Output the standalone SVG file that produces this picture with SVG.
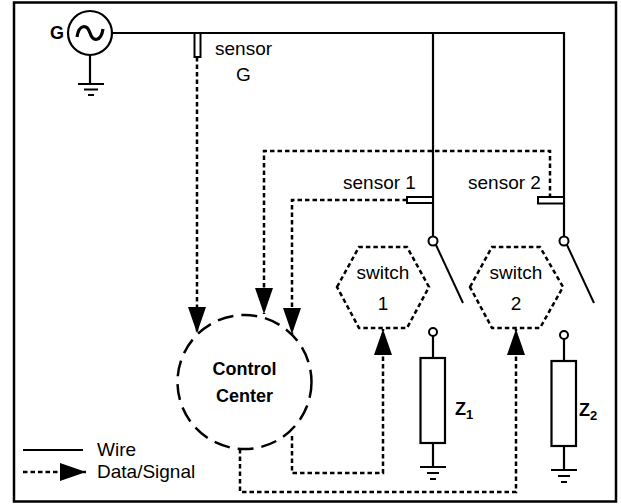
<svg xmlns="http://www.w3.org/2000/svg" width="621" height="504" viewBox="0 0 621 504">
<defs>
<style>
.wire{fill:none;stroke:#000;stroke-width:2.2}
.data{fill:none;stroke:#000;stroke-width:2.5;stroke-dasharray:4.5,3}
.hex{fill:#fff;stroke:#000;stroke-width:2.5;stroke-dasharray:4.5,3}
.t{font-family:"Liberation Sans",Arial,sans-serif;font-size:19px;fill:#000}
.b{font-family:"Liberation Sans",Arial,sans-serif;font-size:18px;font-weight:bold;fill:#000}
</style>
<marker id="arr" markerUnits="userSpaceOnUse" markerWidth="26" markerHeight="18" refX="26" refY="9" orient="auto">
<path d="M0,0 L26,9 L0,18 Z" fill="#000"/>
</marker>
</defs>
<rect x="0" y="0" width="621" height="504" fill="#fff"/>
<rect x="14" y="2.5" width="602" height="499" fill="none" stroke="#000" stroke-width="2.5"/>

<g id="connectors">
<path class="wire" d="M112,33 H564 V237"/>
<path class="wire" d="M433,33 V237"/>
<path class="wire" d="M90,55 V84"/>
<path class="data" d="M197,57 V333" marker-end="url(#arr)"/>
<path class="data" d="M550,198 V151 H264 V314" marker-end="url(#arr)"/>
<path class="data" d="M407,200 H292 V334" marker-end="url(#arr)"/>
<path class="data" d="M292,436 V473 H383 V329" marker-end="url(#arr)"/>
<path class="data" d="M240,449 V492 H516 V329" marker-end="url(#arr)"/>
</g>

<g id="generator">
<circle cx="90" cy="33" r="22" fill="#fff" stroke="#000" stroke-width="2.2"/>
<path d="M77,37 C79,24 87,24 90,33 C93,42 101,42 103,29" fill="none" stroke="#000" stroke-width="3.2"/>
<text class="b" x="50" y="39">G</text>
<path d="M78,84 H104 M84,89.5 H98 M88,95 H94" fill="none" stroke="#000" stroke-width="2.2"/>
</g>

<g id="sensorG">
<rect x="194.5" y="33" width="6" height="24" fill="#fff" stroke="#000" stroke-width="2"/>
<text class="t" x="215" y="55">sensor</text>
<text class="t" x="236" y="81">G</text>
</g>

<g id="sensor1">
<rect x="407" y="197" width="26" height="6" fill="#fff" stroke="#000" stroke-width="2"/>
<text class="t" x="343" y="189">sensor 1</text>
</g>

<g id="sensor2">
<rect x="538" y="197" width="26" height="6.5" fill="#fff" stroke="#000" stroke-width="2"/>
<text class="t" x="468" y="189">sensor 2</text>
</g>

<g id="breaker1">
<circle cx="433" cy="241" r="4.5" fill="#fff" stroke="#000" stroke-width="2"/>
<line x1="436" y1="245" x2="463" y2="303" stroke="#000" stroke-width="2"/>
</g>
<g id="breaker2">
<circle cx="564" cy="241" r="4.5" fill="#fff" stroke="#000" stroke-width="2"/>
<line x1="567" y1="245" x2="594" y2="303" stroke="#000" stroke-width="2"/>
</g>

<g id="switch1">
<polygon class="hex" points="337,287 359,247 407,247 429,287 407,328 359,328"/>
<text class="t" x="383" y="279" text-anchor="middle">switch</text>
<text class="t" x="383" y="310" text-anchor="middle">1</text>
</g>

<g id="switch2">
<polygon class="hex" points="470,287 492,247 540,247 563,287 540,328 492,328"/>
<text class="t" x="516" y="279" text-anchor="middle">switch</text>
<text class="t" x="516" y="310" text-anchor="middle">2</text>
</g>

<g id="controlCenter">
<circle cx="244.5" cy="382" r="67" fill="none" stroke="#000" stroke-width="2.5" stroke-dasharray="16,8"/>
<text class="b" x="244.5" y="375" text-anchor="middle">Control</text>
<text class="b" x="244.5" y="402" text-anchor="middle">Center</text>
</g>

<g id="Z1">
<circle cx="433" cy="332" r="4" fill="#fff" stroke="#000" stroke-width="2"/>
<path class="wire" d="M433,336 V358 M433,443 V467 M420,467 H446 M427,473 H439 M430,479 H436"/>
<rect x="420.5" y="358" width="24.5" height="85" fill="#fff" stroke="#000" stroke-width="2.2"/>
<text class="b" x="455" y="415">Z<tspan font-size="13" dy="4">1</tspan></text>
</g>

<g id="Z2">
<circle cx="564" cy="335" r="4" fill="#fff" stroke="#000" stroke-width="2"/>
<path class="wire" d="M564,339 V361 M564,446 V470 M551,470 H577 M558,476 H570 M561,482 H567"/>
<rect x="551.5" y="361" width="24.5" height="85" fill="#fff" stroke="#000" stroke-width="2.2"/>
<text class="b" x="579" y="416">Z<tspan font-size="13" dy="4">2</tspan></text>
</g>

<g id="legend">
<line x1="23" y1="450" x2="83" y2="450" stroke="#000" stroke-width="2"/>
<text class="t" x="97" y="456">Wire</text>
<line class="data" x1="23" y1="472" x2="86" y2="472" marker-end="url(#arr)"/>
<text class="t" x="97" y="478">Data/Signal</text>
</g>
</svg>
